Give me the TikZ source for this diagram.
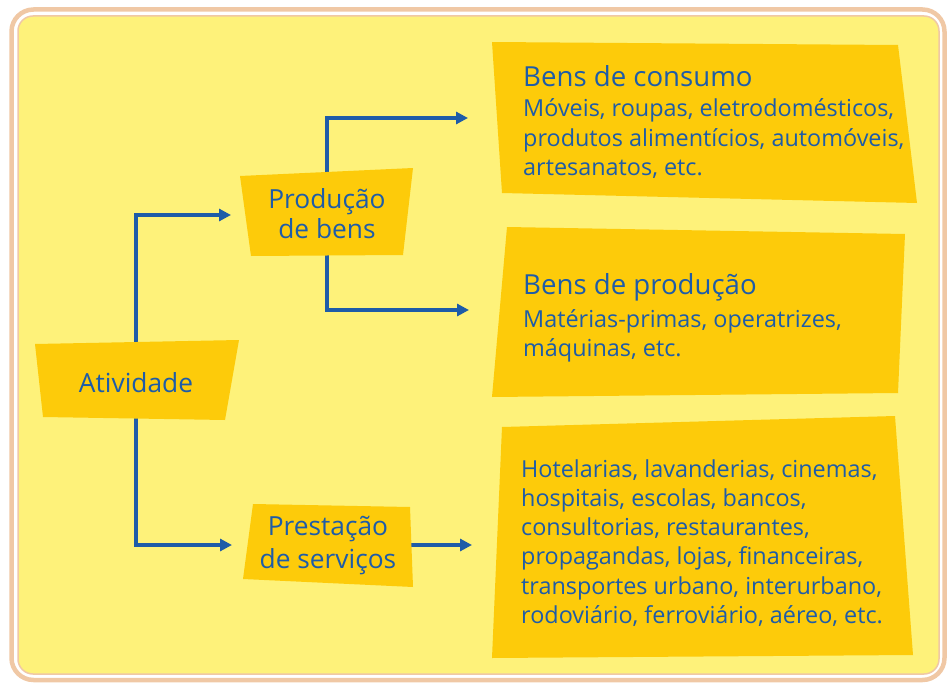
\documentclass[tikz,border=0pt]{standalone}
\usepackage{fontspec}
\setmainfont{Open Sans}
\usetikzlibrary{arrows.meta}
\pgfdeclarelayer{bg}\pgfdeclarelayer{lines}\pgfdeclarelayer{shapes}
\pgfsetlayers{bg,lines,shapes,main}
\definecolor{paper}{RGB}{254,242,122}
\definecolor{gold}{RGB}{253,203,10}
\definecolor{ink}{RGB}{30,92,168}
\definecolor{peach}{RGB}{240,200,165}
\newcommand\mylines[2]{\begin{tabular}[t]{@{}#1@{}}#2\end{tabular}}
\begin{document}
\begin{tikzpicture}[x=1pt,y=-1pt,
  boxlabel/.style={text=ink, inner sep=0pt, font=\fontsize{26.3}{30}\selectfont},
  boxlabelwide/.style={text=ink, inner sep=0pt, font=\fontsize{26.3}{33}\selectfont},
  titletext/.style={text=ink, inner sep=0pt, font=\fontsize{27.6}{30}\selectfont},
  bodytext/.style={text=ink, inner sep=0pt, font=\fontsize{23.4}{29.3}\selectfont},
  arr/.style={draw=ink, line width=3.2pt, -{Triangle[length=12pt,width=12pt]}},
  gbox/.style={fill=gold},
  outerframe/.style={draw=peach, line width=4.5pt, rounded corners=22pt},
  innerframe/.style={draw=peach, line width=1.5pt, fill=paper, rounded corners=15pt}]
\useasboundingbox (0,0) rectangle (951,685);
\begin{pgfonlayer}{bg}
  \draw[outerframe] (11.5,9.5) rectangle (944.5,680);
  \draw[innerframe] (18,16) rectangle (939,674);
\end{pgfonlayer}
% text nodes
\node[boxlabel, anchor=base] (atv) at (136,392) {Atividade};
\node[boxlabel, anchor=base] (prod) at (327,208) {\mylines{c}{Produção\\de bens}};
\node[boxlabelwide, anchor=base] (prest) at (328,535) {\mylines{c}{Prestação\\de serviços}};
\node[titletext, anchor=base west] (consT) at (523,87) {Bens de consumo};
\node[bodytext, anchor=base west] (consB) at (523,117) {\mylines{l}{Móveis, roupas, eletrodomésticos,\\produtos alimentícios, automóveis,\\artesanatos, etc.}};
\node[titletext, anchor=base west] (bprodT) at (523,294) {Bens de produção};
\node[bodytext, anchor=base west] (bprodB) at (523,327) {\mylines{l}{Matérias-primas, operatrizes,\\máquinas, etc.}};
\node[bodytext, anchor=base west] (serv) at (521,477) {\mylines{l}{Hotelarias, lavanderias, cinemas,\\hospitais, escolas, bancos,\\consultorias, restaurantes,\\propagandas, lojas, financeiras,\\transportes urbano, interurbano,\\rodoviário, ferroviário, aéreo, etc.}};
% arrow end points
\coordinate (consIn) at (468,118);
\coordinate (bprodIn) at (469,310);
\coordinate (prodIn) at (231,215);
\coordinate (prestIn) at (232,545);
\coordinate (servIn) at (472,545);
\begin{pgfonlayer}{shapes}
  \fill[gbox] (35,344) -- (239,340) -- (225,420) -- (43,417) -- cycle;
  \fill[gbox] (240,176) -- (413,168) -- (403,255) -- (251,256) -- cycle;
  \fill[gbox] (253,504) -- (410,507) -- (413,587) -- (243,579) -- cycle;
  \fill[gbox] (492,42) -- (898,45) -- (917,203) -- (502,193) -- cycle;
  \fill[gbox] (507,227) -- (905,234) -- (898,393) -- (492,397) -- cycle;
  \fill[gbox] (502,427) -- (895,416) -- (913,655) -- (492,658) -- cycle;
\end{pgfonlayer}
\begin{pgfonlayer}{lines}
  \draw[arr] (prod.north) |- (consIn);
  \draw[arr] (prod.south) |- (bprodIn);
  \draw[arr] (atv.north) |- (prodIn);
  \draw[arr] (atv.south) |- (prestIn);
  \draw[arr] (prest.east |- servIn) -- (servIn);
\end{pgfonlayer}
\end{tikzpicture}
\end{document}
